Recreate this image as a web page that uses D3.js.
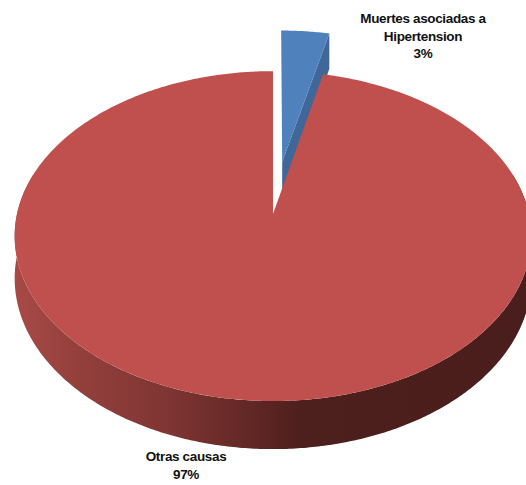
<!DOCTYPE html>
<html><head><meta charset="utf-8">
<style>html,body{margin:0;padding:0;background:#fff;overflow:hidden}svg{display:block}</style>
<script src="https://cdn.jsdelivr.net/npm/d3@7/dist/d3.min.js"></script></head>
<body><svg id="c" width="526" height="485"></svg>
<script>
const categories = ["Muertes asociadas a Hipertension", "Otras causas"];
const values = [3.55, 96.45];
const percentLabels = ["3%", "97%"];
const colors = ["#4f81bd", "#c0504d"];
const explode = [0.337, 0];

const W = 526, H = 485;
const svg = d3.select("#c");
const pie = d3.pie().sort(null).value(d => d)(values);
const k = 0.134;
const sx = d3.scaleLinear().domain([-1, 1]).range([273 - 256, 273 + 256]);
const sy = d3.scaleLinear().domain([-1, 1]).range([214 - 162, 214 + 162]);
const DEPTH = 41.6;

function project(u, v, z) {
  const w = 1 - k * v;
  return [sx(u / w), sy(v / w) + (z ? DEPTH / w : 0)];
}
function rim(a0, a1, u0, v0, z) {
  const n = Math.max(2, Math.ceil((a1 - a0) / 0.01));
  return d3.range(n + 1).map(i => {
    const a = a0 + (a1 - a0) * i / n;
    return project(u0 + Math.sin(a), v0 - Math.cos(a), z);
  });
}
const line = d3.line();
const defs = svg.append("defs");
const g = defs.append("linearGradient").attr("id", "wall")
  .attr("gradientUnits", "userSpaceOnUse").attr("x1", 14).attr("x2", 526).attr("y1", 0).attr("y2", 0);
[[0, "#a84a47"], [0.12, "#94403d"], [0.3, "#7f3533"], [0.48, "#5e2624"], [0.56, "#4d1f1d"], [1, "#4a1e1c"]]
  .forEach(s => g.append("stop").attr("offset", s[0]).attr("stop-color", s[1]));

// blue slice
const b = pie[0], mid = (b.startAngle + b.endAngle) / 2;
const bu = Math.sin(mid) * explode[0], bv = -Math.cos(mid) * explode[0];
const bTop = [project(bu, bv, 0), ...rim(b.startAngle, b.endAngle, bu, bv, 0)];
const ea = b.endAngle, ex = bu + Math.sin(ea), ey = bv - Math.cos(ea);
svg.append("path").attr("fill", "#3f6797")
  .attr("d", line([project(bu, bv, 0), project(ex, ey, 0), project(ex, ey, 1), project(bu, bv, 1)]) + "Z");
svg.append("path").attr("fill", colors[0]).attr("d", line(bTop) + "Z");

// red slice
const r = pie[1];
const outer = rim(Math.PI * 0.42, Math.PI * 1.58, 0, 0, 0);
const lower = rim(Math.PI * 0.42, Math.PI * 1.58, 0, 0, 1).reverse();
svg.append("path").attr("fill", "url(#wall)").attr("d", line([...outer, ...lower]) + "Z");
svg.append("path").attr("fill", colors[1])
  .attr("d", line([project(0, 0, 0), ...rim(r.startAngle, r.endAngle, 0, 0, 0)]) + "Z");

// labels
const labels = [
  { lines: ["Muertes asociadas a", "Hipertension", percentLabels[0]], x: 423, y: [23, 41, 58] },
  { lines: [categories[1], percentLabels[1]], x: 186, y: [461, 479] }
];
labels.forEach(l => l.lines.forEach((t, i) => svg.append("text")
  .attr("x", l.x).attr("y", l.y[i]).attr("text-anchor", "middle")
  .attr("font-family", "Liberation Sans, sans-serif").attr("font-weight", 700)
  .attr("font-size", 13.5).attr("letter-spacing", -0.35).attr("fill", "#111").text(t)));
</script></body></html>
